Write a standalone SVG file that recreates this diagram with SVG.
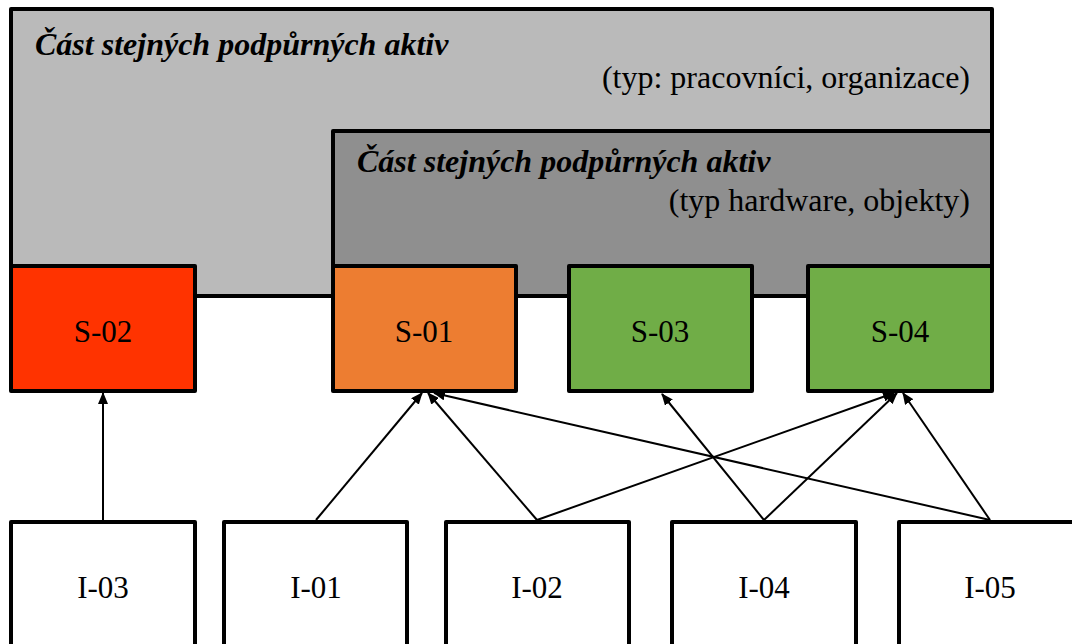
<svg xmlns="http://www.w3.org/2000/svg" width="1072" height="644" viewBox="0 0 1072 644">
<style>
.box{stroke:#000;stroke-width:4;stroke-linejoin:round}
.lbl{font-size:31px;fill:#000;text-anchor:middle}
.ttl{font-size:32px;font-weight:bold;font-style:italic;fill:#000}
.sub{font-size:32px;fill:#000;text-anchor:end}
.con{stroke:#000;stroke-width:2;fill:none;marker-end:url(#ah)}
</style>
<defs>
<marker id="ah" viewBox="0 0 12 10" refX="11" refY="5" markerWidth="12" markerHeight="10" markerUnits="userSpaceOnUse" orient="auto">
<path d="M0,0 L12,5 L0,10 z" fill="#000"/>
</marker>
</defs>
<rect width="1072" height="644" fill="#fff"/>
<g font-family="Liberation Serif, Times New Roman, serif">
<g id="group-outer">
<rect class="box" x="11" y="9" width="981" height="287" fill="#BABABA"/>
<text class="ttl" x="35" y="55">Část stejných podpůrných aktiv</text>
<text class="sub" x="970" y="88">(typ: pracovníci, organizace)</text>
</g>
<g id="group-inner">
<rect class="box" x="333" y="131" width="659" height="165" fill="#8F8F8F"/>
<text class="ttl" x="357" y="172">Část stejných podpůrných aktiv</text>
<text class="sub" x="970" y="211">(typ hardware, objekty)</text>
</g>
<g id="S-02"><rect class="box" x="11" y="266" width="184" height="125" fill="#FF3300"/><text class="lbl" x="103" y="342">S-02</text></g>
<g id="S-01"><rect class="box" x="333" y="266" width="183" height="125" fill="#ED7D31"/><text class="lbl" x="424" y="342">S-01</text></g>
<g id="S-03"><rect class="box" x="569" y="266" width="183" height="125" fill="#70AD47"/><text class="lbl" x="660" y="342">S-03</text></g>
<g id="S-04"><rect class="box" x="808" y="266" width="184" height="125" fill="#70AD47"/><text class="lbl" x="900" y="342">S-04</text></g>
<g id="I-03"><rect class="box" x="11" y="522" width="184" height="130" fill="#fff"/><text class="lbl" x="103" y="598">I-03</text></g>
<g id="I-01"><rect class="box" x="224" y="522" width="183" height="130" fill="#fff"/><text class="lbl" x="316" y="598">I-01</text></g>
<g id="I-02"><rect class="box" x="446" y="522" width="183" height="130" fill="#fff"/><text class="lbl" x="537" y="598">I-02</text></g>
<g id="I-04"><rect class="box" x="672" y="522" width="184" height="130" fill="#fff"/><text class="lbl" x="764" y="598">I-04</text></g>
<g id="I-05"><rect class="box" x="899" y="522" width="190" height="130" fill="#fff"/><text class="lbl" x="990" y="598">I-05</text></g>
</g>
<g id="connectors">
<line class="con" x1="103" y1="520" x2="103" y2="393"/>
<line class="con" x1="316" y1="520" x2="422" y2="393"/>
<line class="con" x1="537" y1="520" x2="428" y2="393"/>
<line class="con" x1="990" y1="520" x2="434" y2="393"/>
<line class="con" x1="537" y1="520" x2="894" y2="393"/>
<line class="con" x1="764" y1="520" x2="662" y2="394"/>
<line class="con" x1="764" y1="520" x2="897" y2="393"/>
<line class="con" x1="990" y1="520" x2="903" y2="393"/>
</g>
</svg>
